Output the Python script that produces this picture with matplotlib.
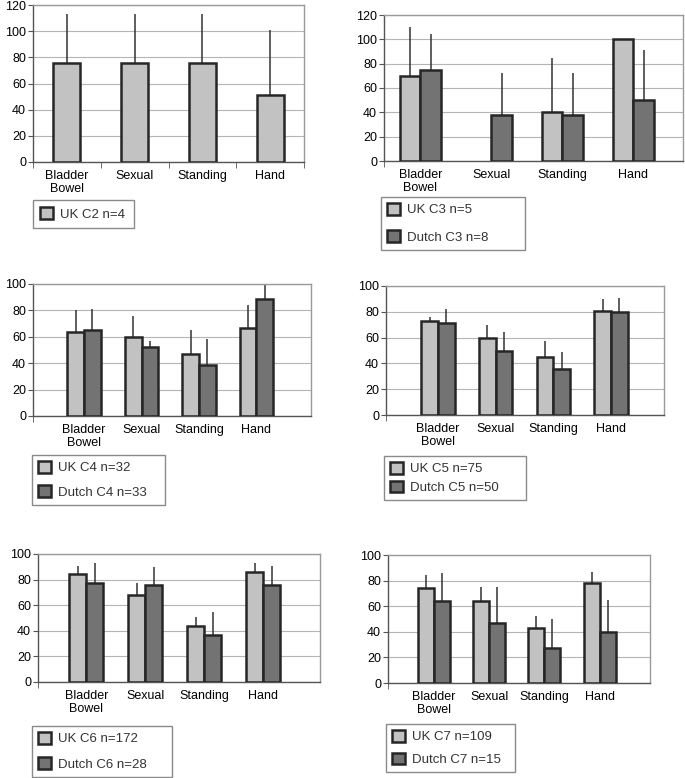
import numpy as np
import matplotlib
matplotlib.use("Agg")
import matplotlib.pyplot as plt
from matplotlib.ticker import FixedLocator

plt.rcParams['font.family'] = ['Liberation Sans', 'DejaVu Sans']
plt.rcParams['font.size'] = 8.5
plt.rcParams['text.color'] = '#333333'

# Donnees
categories = ["Bladder\nBowel", "Sexual", "Standing", "Hand"]

uk_c2 = [76, 76, 76, 51]
uk_c2_err = [37, 37, 37, 50]

uk_c3 = [70, np.nan, 40, 100]
uk_c3_err = [40, np.nan, 45, 0]
nl_c3 = [75, 38, 38, 50]
nl_c3_err = [29, 34, 34, 41]

uk_c4 = [64, 60, 47, 67]
uk_c4_err = [16, 16, 18, 17]
nl_c4 = [65, 52, 39, 89]
nl_c4_err = [16, 5, 19, 12]

uk_c5 = [73, 60, 45, 81]
uk_c5_err = [3, 10, 12, 9]
nl_c5 = [71, 50, 36, 80]
nl_c5_err = [11, 14, 13, 11]

uk_c6 = [84, 68, 44, 86]
uk_c6_err = [7, 9, 7, 7]
nl_c6 = [77, 76, 37, 76]
nl_c6_err = [16, 14, 18, 15]

uk_c7 = [74, 64, 43, 78]
uk_c7_err = [10, 11, 9, 9]
nl_c7 = [64, 47, 27, 40]
nl_c7_err = [22, 28, 23, 25]

legend_labels = [
    ["UK C2 n=4"],
    ["UK C3 n=5", "Dutch C3 n=8"],
    ["UK C4 n=32", "Dutch C4 n=33"],
    ["UK C5 n=75", "Dutch C5 n=50"],
    ["UK C6 n=172", "Dutch C6 n=28"],
    ["UK C7 n=109", "Dutch C7 n=15"],
]

W, H = 685, 778
UK_COLOR = '#c2c2c2'
NL_COLOR = '#737373'
EDGE = '#262626'

fig = plt.figure(figsize=(W / 100, H / 100), dpi=100)


def make_axes(left, top, right, bottom):
    """Cree des axes a partir de coordonnees en pixels."""
    return fig.add_axes([left / W, 1 - bottom / H, (right - left) / W, (bottom - top) / H])


def style_axes(ax, ymax, xlim, boundary_ticks):
    ax.set_ylim(0, ymax)
    ax.set_xlim(*xlim)
    ax.set_yticks(np.arange(0, ymax + 1, 20))
    ax.grid(axis='y', color='#b5b5b5', linewidth=0.8)
    ax.set_axisbelow(True)
    ax.set_xticks(range(len(categories)))
    ax.set_xticklabels(categories, linespacing=1.05)
    ax.tick_params(axis='x', which='major', length=0, pad=6, labelsize=9)
    ax.tick_params(axis='y', length=3.5, pad=1.5, color='#555555', labelsize=9)
    if boundary_ticks:
        ax.xaxis.set_minor_locator(FixedLocator(np.arange(-0.5, 4, 1)))
    else:
        ax.xaxis.set_minor_locator(FixedLocator([xlim[0]]))
    ax.tick_params(axis='x', which='minor', length=4, color='#555555')
    for s in ['top', 'right']:
        ax.spines[s].set_color('#9a9a9a')
    for s in ['left', 'bottom']:
        ax.spines[s].set_color('#555555')
    for s in ax.spines.values():
        s.set_linewidth(1.0)


def draw_bars(ax, x, vals, errs, width, color):
    vals = np.array(vals, dtype=float)
    errs = np.array(errs, dtype=float)
    ok = ~np.isnan(vals)
    x = np.asarray(x)[ok]
    ax.errorbar(x, vals[ok], yerr=[np.zeros(ok.sum()), errs[ok]], fmt='none',
                ecolor='#333333', elinewidth=1.1, capsize=0, zorder=2)
    return ax.bar(x, vals[ok], width=width, color=color, edgecolor=EDGE,
                  linewidth=1.8, zorder=3)


def add_legend(handles, labels, left, top, right, bottom, spacing, pad=0.45):
    leg = fig.legend(handles, labels, loc='upper left',
                     bbox_to_anchor=(left / W, 1 - bottom / H, (right - left) / W, (bottom - top) / H),
                     mode='expand', fancybox=False, edgecolor='#8a8a8a', framealpha=1,
                     handlelength=1.0, handleheight=1.0, handletextpad=0.5,
                     labelspacing=spacing, borderpad=pad, fontsize=9.5, borderaxespad=0)
    leg.get_frame().set_linewidth(1.0)


x = np.arange(len(categories))

# Panneau C2
ax = make_axes(33, 5, 304, 162)
style_axes(ax, 120, (-0.5, 3.5), True)
b1 = draw_bars(ax, x, uk_c2, uk_c2_err, 0.40, UK_COLOR)
add_legend([b1], legend_labels[0], 33, 200, 134, 229, 0.5, pad=0.55)

# Panneaux a deux series
panels = [
    ((384, 15, 683, 161), 120, (-0.51, 3.70), (uk_c3, uk_c3_err, nl_c3, nl_c3_err), (381, 197, 525, 252), 1.07),
    ((33, 284, 311, 416), 100, (-0.89, 3.95), (uk_c4, uk_c4_err, nl_c4, nl_c4_err), (32, 455, 165, 508), 0.82),
    ((386, 286, 664, 415), 100, (-0.90, 3.92), (uk_c5, uk_c5_err, nl_c5, nl_c5_err), (384, 456, 526, 502), 0.4),
    ((38, 554, 320, 682), 100, (-0.82, 3.96), (uk_c6, uk_c6_err, nl_c6, nl_c6_err), (32, 726, 172, 777), 0.9),
    ((388, 555, 650, 683), 100, (-0.83, 3.91), (uk_c7, uk_c7_err, nl_c7, nl_c7_err), (386, 724, 515, 775), 0.7),
]

w = 0.29
for i, (box, ymax, xlim, series, legbox, spacing) in enumerate(panels):
    ax = make_axes(*box)
    style_axes(ax, ymax, xlim, False)
    uk, uk_err, nl, nl_err = series
    bu = draw_bars(ax, x - w / 2, uk, uk_err, w, UK_COLOR)
    bn = draw_bars(ax, x + w / 2, nl, nl_err, w, NL_COLOR)
    add_legend([bu, bn], legend_labels[i + 1], *legbox, spacing)

fig.savefig("out.png", dpi=100)
